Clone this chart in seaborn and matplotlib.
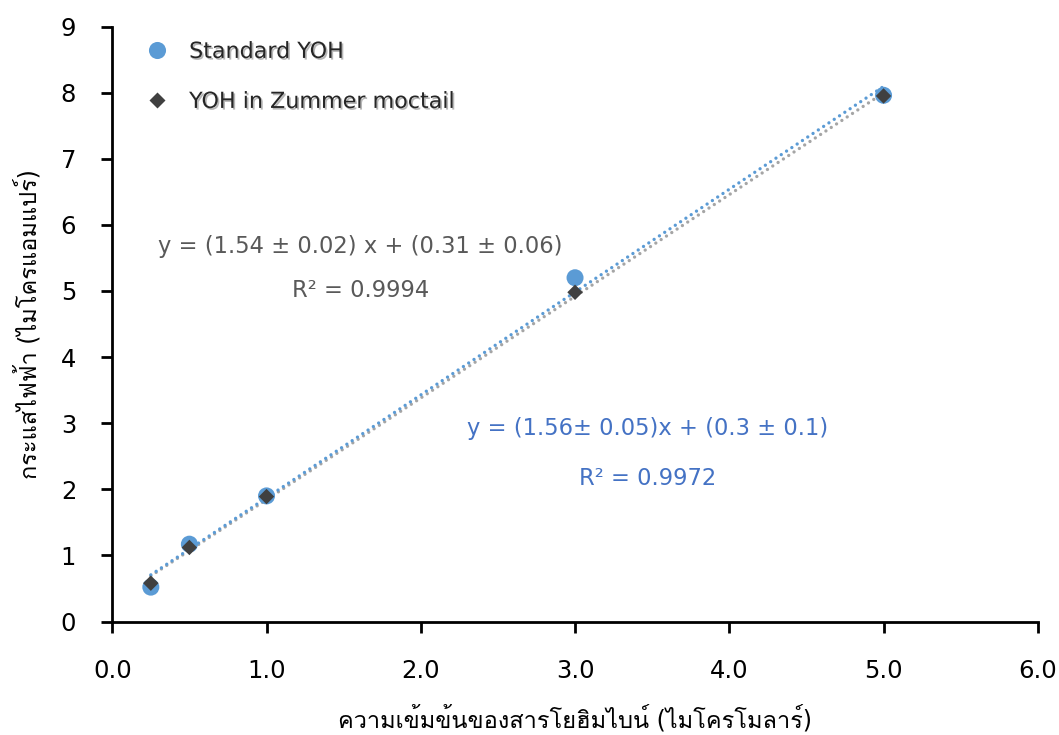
import numpy as np
import pandas as pd
import matplotlib
matplotlib.use("Agg")
import matplotlib.pyplot as plt
import matplotlib.patheffects as pe
from matplotlib import font_manager
from matplotlib.ft2font import FT2Font
from matplotlib.lines import Line2D
import seaborn as sns

# Concentration (µM) and measured current (µA)
concentration = [0.25, 0.5, 1.0, 3.0, 5.0]
standard_current = [0.52, 1.17, 1.90, 5.20, 7.96]
moctail_current = [0.58, 1.12, 1.89, 4.98, 7.95]

series_names = ["Standard YOH", "YOH in Zummer moctail"]
eq_moctail = ["y = (1.54 ± 0.02) x + (0.31 ± 0.06)", "R² = 0.9994"]
eq_standard = ["y = (1.56± 0.05)x + (0.3 ± 0.1)", "R² = 0.9972"]
x_ticks = [0, 1, 2, 3, 4, 5, 6]
y_ticks = [0, 1, 2, 3, 4, 5, 6, 7, 8, 9]
x_label = "ความเข้มข้นของสารโยฮิมไบน์ (ไมโครโมลาร์)"
y_label = "กระแสไฟฟ้า (ไมโครแอมแปร์)"

BLUE = "#5B9BD5"
DARK = "#404040"
GRAY_LINE = "#A5A5A5"
BLUE_TEXT = "#4472C4"
GRAY_TEXT = "#595959"


def find_thai_family():
    for f in font_manager.fontManager.ttflist:
        try:
            if 0x0E01 in FT2Font(f.fname).get_charmap():
                return f.name
        except Exception:
            pass
    return None


sns.set_theme(style="ticks")
thai = find_thai_family()
families = ["DejaVu Sans"]
if thai:
    families = ["DejaVu Sans", thai]
plt.rcParams["font.family"] = families

df = pd.DataFrame({
    "conc": concentration * 2,
    "current": standard_current + moctail_current,
    "series": [series_names[0]] * len(concentration) + [series_names[1]] * len(concentration),
})
df_std = df[df["series"] == series_names[0]]
df_moc = df[df["series"] == series_names[1]]

fig = plt.figure(figsize=(10.59, 7.35), dpi=100)
ax = fig.add_axes([0.106, 0.1544, 0.874, 0.8095])

# Linear trendlines drawn as round-dot lines, truncated to the data range
dot = dict(lw=2.4, ls=(0, (0.01, 1.9)), dash_capstyle="round")
sns.regplot(data=df_moc, x="conc", y="current", ax=ax, scatter=False, ci=None,
            truncate=True, line_kws=dict(color=GRAY_LINE, **dot))
sns.regplot(data=df_std, x="conc", y="current", ax=ax, scatter=False, ci=None,
            truncate=True, line_kws=dict(color=BLUE, **dot))

sns.scatterplot(data=df_std, x="conc", y="current", ax=ax, color=BLUE, marker="o",
                s=150, edgecolor="none", zorder=3, legend=False)
sns.scatterplot(data=df_moc, x="conc", y="current", ax=ax, color=DARK, marker="D",
                s=62, edgecolor="none", zorder=4, legend=False)

ax.set_xlim(0, 6)
ax.set_ylim(0, 9)
ax.set_xticks(x_ticks)
ax.set_xticklabels([f"{v:.1f}" for v in x_ticks])
ax.set_yticks(y_ticks)
ax.set_yticklabels([str(v) for v in y_ticks])
ax.tick_params(axis="both", direction="out", length=8, width=2, labelsize=17.5,
               colors="black")
ax.tick_params(axis="x", pad=19)
ax.tick_params(axis="y", pad=18)
for side in ("left", "bottom"):
    ax.spines[side].set_linewidth(2)
    ax.spines[side].set_color("black")
sns.despine(ax=ax)

ax.set_xlabel(x_label, fontsize=17, color="black")
ax.set_ylabel(y_label, fontsize=17, color="black")
ax.xaxis.set_label_coords(0.5, -0.141)
ax.yaxis.set_label_coords(-0.076, 0.5)

shadow = [pe.SimplePatchShadow(offset=(1.2, -1.2), shadow_rgbFace="#888888", alpha=0.6),
          pe.Normal()]

handles = [
    Line2D([], [], ls="none", marker="o", markersize=12.3, color=BLUE, markeredgecolor="none"),
    Line2D([], [], ls="none", marker="D", markersize=8.5, color=DARK, markeredgecolor="none"),
]
leg = ax.legend(handles, series_names, loc="upper left", bbox_to_anchor=(0.005, 1.004),
                frameon=False, fontsize=16, handletextpad=0.45, labelspacing=1.35,
                borderaxespad=0.4)
for t in leg.get_texts():
    t.set_path_effects(shadow)

ax.text(1.607, 5.68, eq_moctail[0], ha="center", va="center", fontsize=16.3, color=GRAY_TEXT)
ax.text(1.607, 5.0, eq_moctail[1], ha="center", va="center", fontsize=16.3, color=GRAY_TEXT)
ax.text(3.47, 2.92, eq_standard[0], ha="center", va="center", fontsize=16.3, color=BLUE_TEXT)
ax.text(3.47, 2.16, eq_standard[1], ha="center", va="center", fontsize=16.3, color=BLUE_TEXT)

fig.savefig("out.png", dpi=100, facecolor="white")
